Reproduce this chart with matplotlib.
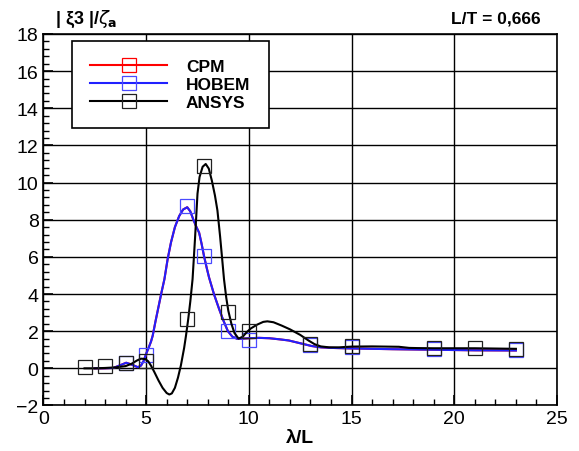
import matplotlib.pyplot as plt
from matplotlib.lines import Line2D
from matplotlib.ticker import MultipleLocator

plt.rcParams['font.family'] = ['Liberation Sans', 'DejaVu Sans']

# curves
ansys_x = [2.0, 2.5, 3.0, 3.5, 4.0, 4.3, 4.55, 4.75, 4.95, 5.1, 5.25, 5.4, 5.6, 5.8, 6.0, 6.13, 6.25,
           6.4, 6.55, 6.69, 6.85, 6.94, 7.05, 7.15, 7.26, 7.38, 7.5, 7.6, 7.75, 7.9, 8.05, 8.2, 8.35,
           8.47, 8.6, 8.7, 8.79, 8.9, 9.0, 9.15, 9.3, 9.5, 9.7, 9.9, 10.1, 10.4, 10.7, 10.9, 11.2, 11.6,
           12.0, 12.5, 12.9, 13.2, 13.5, 13.9, 14.4, 15.0, 16.0, 17.3, 17.8, 18.2, 19.0, 21.0, 23.0]
ansys_y = [0.0, 0.0, 0.02, 0.05, 0.12, 0.25, 0.42, 0.52, 0.5, 0.38, 0.12, -0.2, -0.65, -1.05, -1.33, -1.41, -1.35,
           -1.05, -0.5, 0.15, 1.1, 1.76, 2.66, 3.6, 4.8, 7.0, 9.4, 10.3, 10.85, 11.0, 10.75, 10.1, 9.3,
           8.5, 7.1, 5.9, 4.8, 3.8, 3.1, 2.4, 1.9, 1.6, 1.7, 1.95, 2.15, 2.35, 2.5, 2.53, 2.48, 2.3,
           2.1, 1.8, 1.5, 1.3, 1.18, 1.13, 1.13, 1.17, 1.18, 1.16, 1.1, 1.09, 1.08, 1.08, 1.05]

hobem_x = [2.5, 3.0, 3.4, 3.7, 4.03, 4.3, 4.6, 4.75, 4.88, 5.0, 5.12, 5.24, 5.32, 5.45, 5.6, 5.75,
           5.89, 6.05, 6.21, 6.4, 6.61, 6.8, 7.0, 7.15, 7.3, 7.45, 7.58, 7.7, 7.82, 7.95, 8.06, 8.3,
           8.55, 8.75, 8.98, 9.2, 9.43, 9.7, 10.0, 10.5, 11.0, 11.5, 11.94, 12.5, 13.06, 13.5, 14.0,
           15.0, 17.0, 19.0, 21.0, 23.0]
hobem_y = [0.0, 0.0, 0.02, 0.15, 0.3, 0.2, 0.06, 0.15, 0.4, 0.78, 1.1, 1.45, 1.76, 2.5, 3.3, 4.1,
           4.8, 5.9, 6.78, 7.6, 8.2, 8.55, 8.67, 8.45, 8.0, 7.6, 7.3, 6.7, 6.03, 5.4, 4.9, 4.0,
           3.2, 2.6, 2.0, 1.7, 1.59, 1.6, 1.62, 1.64, 1.62, 1.56, 1.5, 1.35, 1.2, 1.13, 1.1,
           1.07, 1.03, 1.0, 0.97, 0.96]

cpm_x = hobem_x
cpm_y = hobem_y

# computed points (markers)
hobem_px = [4, 5, 7, 7.8, 9, 10, 13, 15, 19, 23]
hobem_py = [0.3, 0.7, 8.75, 6.03, 2.0, 1.5, 1.23, 1.14, 1.05, 1.01]
ansys_px = [2, 3, 4, 5, 7, 7.8, 9, 10, 13, 15, 19, 21, 23]
ansys_py = [0.05, 0.1, 0.3, 0.42, 2.66, 10.87, 3.05, 2.03, 1.32, 1.2, 1.09, 1.09, 1.05]

fig = plt.figure(figsize=(5.79, 4.52), dpi=100)
ax = fig.add_axes([0.075, 0.1007, 0.887, 0.822])

ms = 10
ax.plot(cpm_x, cpm_y, color='red', lw=1.5)
ax.plot(hobem_x, hobem_y, color='#2020ff', lw=1.5)
ax.plot(hobem_px, hobem_py, 's', mfc='none', mec='#4a4aff', ms=ms, mew=0.9)
ax.plot(ansys_x, ansys_y, color='black', lw=1.5)
ax.plot(ansys_px, ansys_py, 's', mfc='none', mec='#202020', ms=ms, mew=0.9)

ax.set_xlim(0, 25)
ax.set_ylim(-2, 18)
ax.xaxis.set_major_locator(MultipleLocator(5))
ax.xaxis.set_minor_locator(MultipleLocator(1))
ax.yaxis.set_major_locator(MultipleLocator(2))
ax.yaxis.set_minor_locator(MultipleLocator(0.4))
ax.grid(True, which='major', color='black', lw=1)
ax.tick_params(which='both', direction='in', top=False, right=False, labelsize=14)
ax.tick_params(which='major', length=7, width=1.2)
ax.tick_params(which='minor', length=4, width=1)
for s in ax.spines.values():
    s.set_linewidth(1.2)

ax.set_xlabel('λ/L', fontsize=14, fontweight='bold', labelpad=1)
fig.text(0.095, 0.958, r'| ξ3 |/$\zeta_{\mathbf{a}}$', fontsize=13, fontweight='bold', va='center')
fig.text(0.933, 0.958, 'L/T = 0,666', fontsize=12.5, fontweight='bold', ha='right', va='center')

handles = [
    Line2D([], [], color='red', marker='s', mfc='none', mec='red', ms=ms, mew=0.9, lw=1.5),
    Line2D([], [], color='#2020ff', marker='s', mfc='none', mec='#4a4aff', ms=ms, mew=0.9, lw=1.5),
    Line2D([], [], color='black', marker='s', mfc='none', mec='#202020', ms=ms, mew=0.9, lw=1.5),
]
leg = ax.legend(handles, ['CPM', 'HOBEM', 'ANSYS'], loc='upper left', bbox_to_anchor=(0.056, 0.981),
                prop={'weight': 'bold', 'size': 12.5}, handlelength=4.4, handletextpad=1.1,
                labelspacing=0.15, borderpad=1.05, borderaxespad=0, fancybox=False, framealpha=1,
                edgecolor='black')
leg.get_frame().set_linewidth(1.2)

fig.savefig('out.png', dpi=100)
